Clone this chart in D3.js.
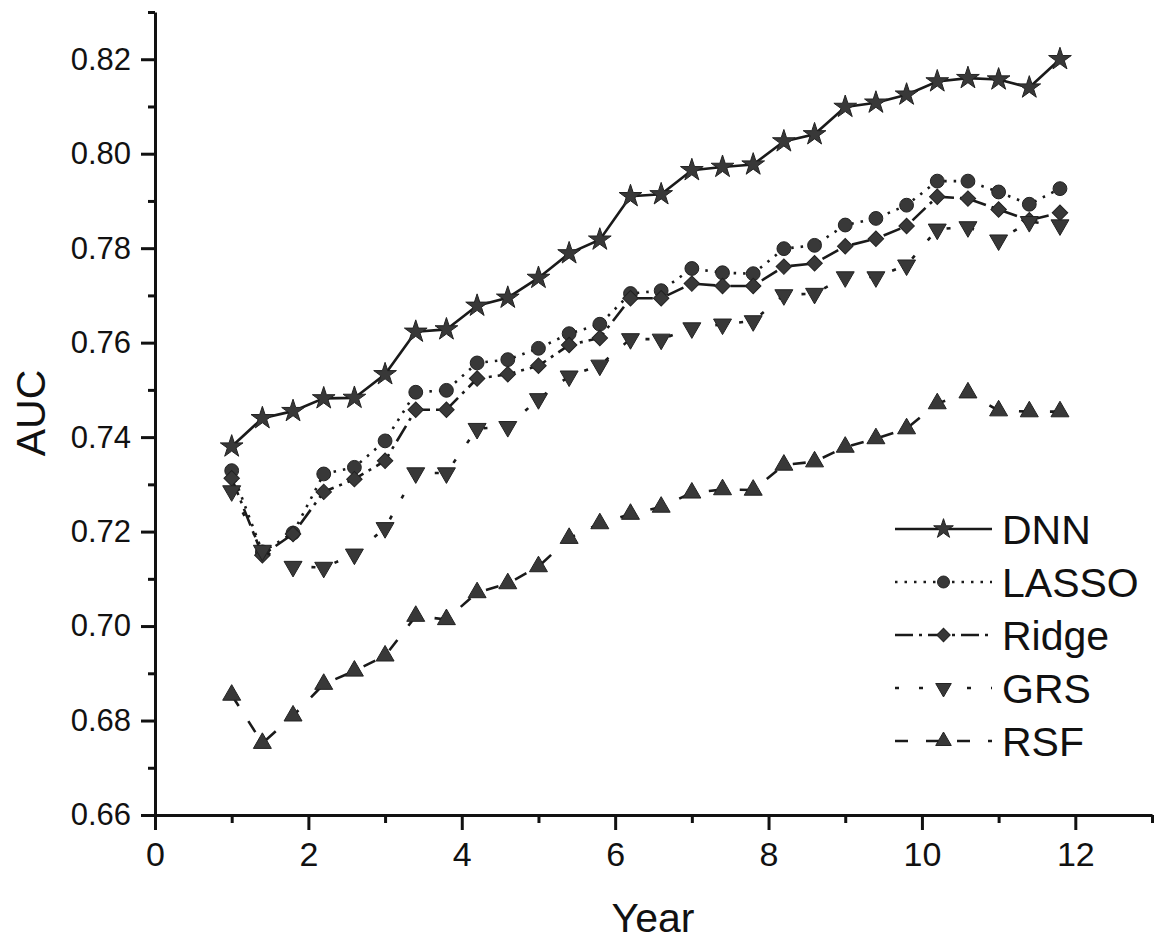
<!DOCTYPE html>
<html>
<head>
<meta charset="utf-8">
<script src="https://cdn.jsdelivr.net/npm/d3@7"></script>
<style>
  body { margin: 0; background: #fff; }
  svg text { font-family: "Liberation Sans", Arial, sans-serif; fill: #111; }
</style>
</head>
<body>
<svg id="chart" width="1158" height="940"></svg>
<script>
const years = [1.0, 1.4, 1.8, 2.2, 2.6, 3.0, 3.4, 3.8, 4.2, 4.6, 5.0, 5.4, 5.8, 6.2,
               6.6, 7.0, 7.4, 7.8, 8.2, 8.6, 9.0, 9.4, 9.8, 10.2, 10.6, 11.0, 11.4, 11.8];

const dnn   = [0.7380, 0.7440, 0.7455, 0.7482, 0.7483, 0.7533, 0.7623, 0.7628, 0.7678, 0.7695,
               0.7737, 0.7789, 0.7818, 0.7910, 0.7914, 0.7965, 0.7972, 0.7977, 0.8026, 0.8041,
               0.8099, 0.8108, 0.8125, 0.8153, 0.8160, 0.8157, 0.8140, 0.8200];
const lasso = [0.7329, 0.7157, 0.7197, 0.7322, 0.7336, 0.7392, 0.7495, 0.7499, 0.7557, 0.7564,
               0.7588, 0.7619, 0.7639, 0.7704, 0.7710, 0.7757, 0.7748, 0.7746, 0.7799, 0.7806,
               0.7849, 0.7863, 0.7891, 0.7942, 0.7942, 0.7919, 0.7893, 0.7926];
const ridge = [0.7313, 0.7150, 0.7195, 0.7284, 0.7311, 0.7350, 0.7458, 0.7458, 0.7524, 0.7533,
               0.7551, 0.7595, 0.7610, 0.7694, 0.7694, 0.7725, 0.7720, 0.7720, 0.7761, 0.7768,
               0.7804, 0.7820, 0.7847, 0.7909, 0.7905, 0.7882, 0.7859, 0.7875];
const grs   = [0.7286, 0.7160, 0.7126, 0.7124, 0.7152, 0.7208, 0.7324, 0.7324, 0.7418, 0.7422,
               0.7481, 0.7529, 0.7552, 0.7608, 0.7607, 0.7631, 0.7639, 0.7646, 0.7701, 0.7704,
               0.7739, 0.7739, 0.7764, 0.7840, 0.7845, 0.7817, 0.7856, 0.7849];
const rsf   = [0.6854, 0.6752, 0.6810, 0.6877, 0.6905, 0.6937, 0.7021, 0.7014, 0.7071, 0.7090,
               0.7126, 0.7186, 0.7217, 0.7237, 0.7252, 0.7282, 0.7289, 0.7288, 0.7341, 0.7348,
               0.7379, 0.7397, 0.7418, 0.7471, 0.7494, 0.7456, 0.7454, 0.7454];

const seriesNames = ["DNN", "LASSO", "Ridge", "GRS", "RSF"];
const xMajor = [0, 2, 4, 6, 8, 10, 12];
const xMinor = [1, 3, 5, 7, 9, 11, 13];
const yMajor = [0.66, 0.68, 0.70, 0.72, 0.74, 0.76, 0.78, 0.80, 0.82];
const yMinor = [0.67, 0.69, 0.71, 0.73, 0.75, 0.77, 0.79, 0.81, 0.83];

const series = [
  { name: "DNN",   values: dnn,   symbol: d3.symbolStar,     size: 160, rot: 0,   dash: null },
  { name: "LASSO", values: lasso, symbol: d3.symbolCircle,   size: 150, rot: 0,   dash: "2.5,7" },
  { name: "Ridge", values: ridge, symbol: d3.symbolSquare,   size: 120, rot: 45,  dash: "18,6,3,6" },
  { name: "GRS",   values: grs,   symbol: d3.symbolTriangle, size: 140, rot: 180, dash: "4,20" },
  { name: "RSF",   values: rsf,   symbol: d3.symbolTriangle, size: 140, rot: 0,   dash: "13,18" }
];

const svg = d3.select("#chart");
const x = d3.scaleLinear().domain([0, 13]).range([155, 1152]);
const y = d3.scaleLinear().domain([0.66, 0.83]).range([815, 12]);

// axes
const gx = svg.append("g").attr("transform", "translate(0,815)");
gx.call(d3.axisBottom(x).tickValues(xMajor).tickSize(15).tickSizeOuter(0).tickPadding(12).tickFormat(d3.format("d")));
gx.append("g").call(d3.axisBottom(x).tickValues(xMinor).tickSize(8).tickSizeOuter(0).tickFormat(""))
  .select(".domain").remove();
gx.selectAll("text").style("font-size", "34px").attr("fill", "#111");

const gy = svg.append("g").attr("transform", "translate(155,0)");
gy.call(d3.axisLeft(y).tickValues(yMajor).tickSize(14).tickSizeOuter(0).tickPadding(10).tickFormat(d3.format(".2f")));
gy.append("g").call(d3.axisLeft(y).tickValues(yMinor).tickSize(7).tickSizeOuter(0).tickFormat(""))
  .select(".domain").remove();
gy.selectAll("text").style("font-size", "31px").attr("fill", "#111");

svg.selectAll(".domain, .tick line").attr("stroke", "#111").attr("stroke-width", 3);

svg.append("text").attr("x", 653).attr("y", 932).attr("text-anchor", "middle")
  .style("font-size", "41px").text("Year");
svg.append("text").attr("transform", "translate(45,413) rotate(-90)").attr("text-anchor", "middle")
  .style("font-size", "41px").text("AUC");

// lines and markers
const line = d3.line().x((d, i) => x(years[i])).y(d => y(d));

series.forEach(s => {
  svg.append("path")
    .attr("d", line(s.values))
    .attr("fill", "none")
    .attr("stroke", "#1a1a1a")
    .attr("stroke-width", 2.6)
    .attr("stroke-dasharray", s.dash);

  svg.append("g").selectAll("path")
    .data(s.values)
    .enter().append("path")
    .attr("d", d3.symbol().type(s.symbol).size(s.size))
    .attr("transform", (d, i) => `translate(${x(years[i])},${y(d)}) rotate(${s.rot})`)
    .attr("fill", "#383838")
    .attr("stroke", "#222")
    .attr("stroke-width", 1);
});

// legend
const legend = svg.append("g").attr("transform", "translate(895,529)");
series.forEach((s, i) => {
  const row = legend.append("g").attr("transform", `translate(0,${i * 53})`);
  row.append("line").attr("x1", 0).attr("x2", 97).attr("y1", 0).attr("y2", 0)
    .attr("stroke", "#1a1a1a").attr("stroke-width", 2.6).attr("stroke-dasharray", s.dash);
  row.append("path")
    .attr("d", d3.symbol().type(s.symbol).size(s.size * 0.75))
    .attr("transform", `translate(48.5,0) rotate(${s.rot})`)
    .attr("fill", "#383838").attr("stroke", "#222");
  row.append("text").attr("x", 107).attr("y", 0).attr("dy", "0.36em")
    .style("font-size", "41px").text(seriesNames[i]);
});
</script>
</body>
</html>
